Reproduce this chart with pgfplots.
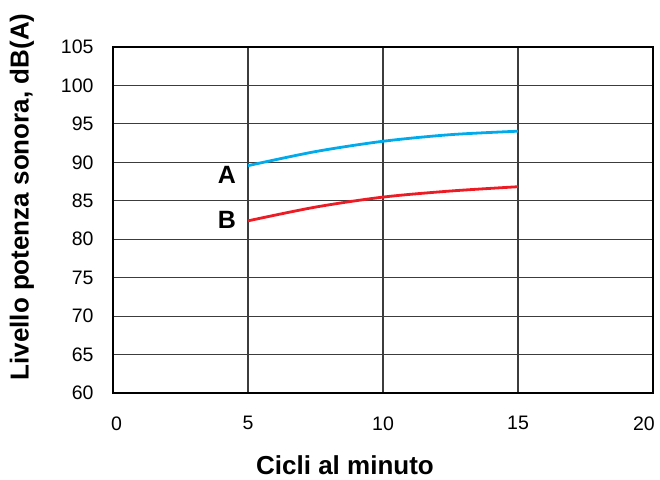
\documentclass[border=0pt]{standalone}
\usepackage{fontspec}
\setmainfont{Liberation Sans}
\usepackage{pgfplots}
\pgfplotsset{compat=1.18}
\definecolor{cA}{RGB}{0,170,235}
\definecolor{cB}{RGB}{237,28,36}
\definecolor{gridc}{RGB}{60,60,60}
\begin{document}
\fontsize{19}{22}\selectfont
\begin{tikzpicture}
\path[use as bounding box] (-113pt,-86pt) rectangle (547pt,393pt);
\begin{axis}[
  at={(0,0)}, anchor=south west,
  scale only axis, width=540pt, height=346pt,
  xmin=0, xmax=20, ymin=60, ymax=105,
  xtick={0,5,10,15,20}, ytick={60,65,...,105},
  xticklabels={\makebox[18pt][r]{0},5,10,15,\makebox[40pt][l]{20}},
  grid=major, major grid style={gridc, line width=1.2pt},
  axis line style={black, line width=1.8pt},
  major tick length=0pt,
  /pgf/number format/assume math mode=true,
  ticklabel style={font=\fontsize{19.5}{22}\selectfont},
  yticklabel style={xshift=-13pt},
  xticklabel style={yshift=-17pt},
  xlabel={\textbf{Cicli al minuto}},
  ylabel={\textbf{Livello potenza sonora, dB(A)}},
  label style={font=\fontsize{26}{30}\selectfont},
  xlabel style={at={(rel axis cs:0.5,0)}, anchor=center, yshift=-72pt, xshift=-38pt},
  ylabel style={at={(rel axis cs:0,0.5)}, anchor=center, yshift=91pt, xshift=23pt},
  clip=false,
]
\addplot[cA, line width=2.8pt, smooth] coordinates {
 (5,89.57) (7.5,91.4) (10,92.74) (12.5,93.6) (15,94.05)};
\addplot[cB, line width=2.8pt, smooth] coordinates {
 (5,82.39) (7.5,84.18) (10,85.48) (12.5,86.27) (15,86.83)};
\node[font=\fontsize{25}{28}\selectfont\bfseries] at (axis cs:4.22,88.4) {A};
\node[font=\fontsize{25}{28}\selectfont\bfseries] at (axis cs:4.22,82.5) {B};
\end{axis}
\end{tikzpicture}
\end{document}
